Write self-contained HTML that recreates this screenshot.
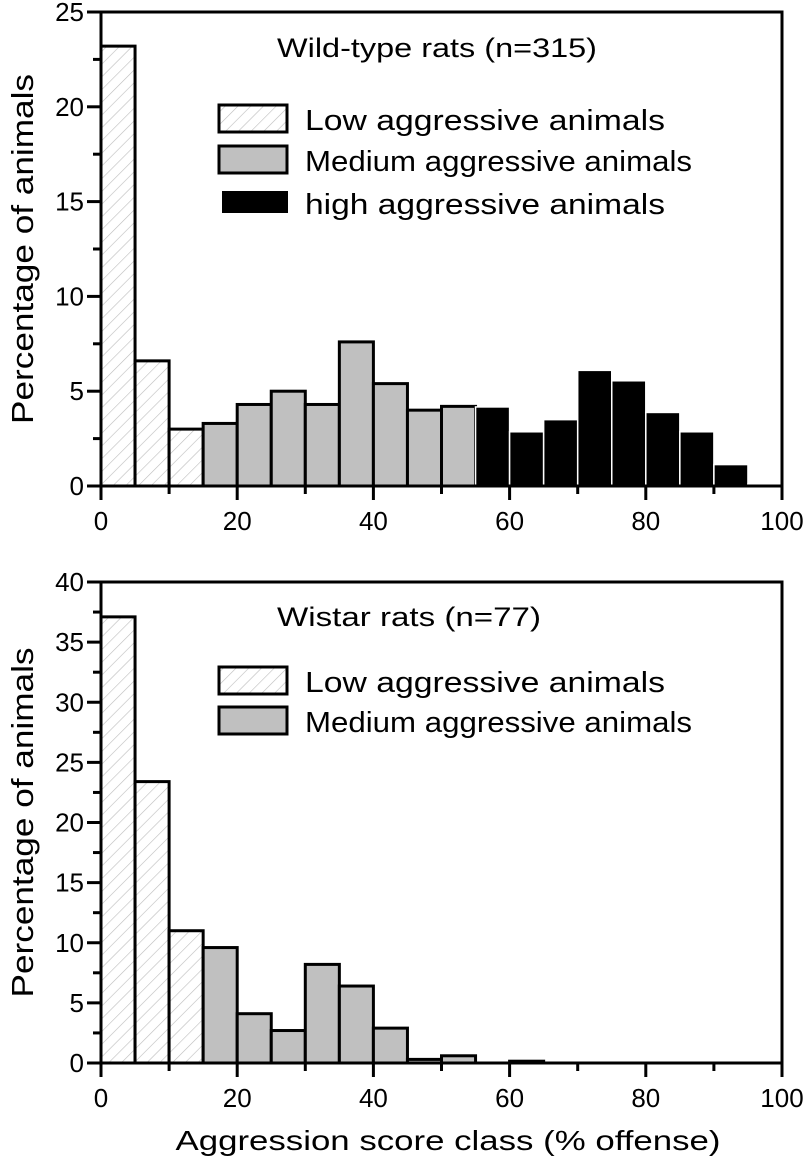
<!DOCTYPE html>
<html><head><meta charset="utf-8"><style>
html,body{margin:0;padding:0;background:#fff;}
svg{display:block;font-family:"Liberation Sans",Arial,sans-serif;}
</style></head><body>
<svg id="chart" width="806" height="1168" viewBox="0 0 806 1168" xmlns="http://www.w3.org/2000/svg">
<defs>
<pattern id="hatch" patternUnits="userSpaceOnUse" width="9" height="9" patternTransform="rotate(45)">
<rect width="9" height="9" fill="#fff"/>
<line x1="0" y1="0" x2="0" y2="9" stroke="#bdbdbd" stroke-width="1.2"/>
</pattern>
</defs>
<g id="g"></g>
</svg>
<script>
// bins (class lower edges, %)
const binStarts = [0,5,10,15,20,25,30,35,40,45,50,55,60,65,70,75,80,85,90,95];
// top panel: wild-type rats
const wildValues = [23.2,6.6,3.0,3.3,4.3,5.0,4.3,7.6,5.4,4.0,4.2,4.17,2.86,3.5,6.1,5.55,3.88,2.86,1.13,0.1];
const wildClasses = ['low','low','low','med','med','med','med','med','med','med','med','high','high','high','high','high','high','high','high','high'];
// bottom panel: Wistar rats
const wistarValues = [37.1,23.4,11.0,9.6,4.1,2.7,8.2,6.4,2.9,0.3,0.6,0,0.15,0,0,0,0,0,0,0];
const wistarClasses = ['low','low','low','med','med','med','med','med','med','med','med','med','med','med','med','med','med','med','med','med'];
const xTicks = [0,20,40,60,80,100];
const wildYTicks = [0,5,10,15,20,25];
const wistarYTicks = [0,5,10,15,20,25,30,35,40];

const NS='http://www.w3.org/2000/svg';
const root=document.getElementById('g');
function mk(tag,attrs,parent){const e=document.createElementNS(NS,tag);for(const k in attrs)e.setAttribute(k,attrs[k]);(parent||root).appendChild(e);return e;}

function panel(p){
  const grp=mk('g',{});
  
  
  const x=v=>p.x0+(v/100)*(p.x1-p.x0);
  const y=v=>p.y0-(v/p.ymax)*(p.y0-p.y1);
  const w=5;
  p.values.forEach((v,i)=>{
    if(v<=0)return;
    const c=p.classes[i];
    const xa=x(binStarts[i]), xb=x(binStarts[i]+w), ya=y(v);
    let r;
    if(c==='high'){
      r=mk('rect',{x:xa,y:ya,width:xb-xa,height:Math.max(p.y0-ya,1.5),fill:'#000',stroke:'#fff','stroke-width':1.5},grp);
    }else{
      r=mk('rect',{x:xa,y:ya,width:xb-xa,height:p.y0-ya,fill:c==='low'?'url(#hatch)':'#c0c0c0',stroke:'#000','stroke-width':3},grp);
    }
    
    
  });
  const fr=mk('rect',{x:p.x0,y:p.y1,width:p.x1-p.x0,height:p.y0-p.y1,fill:'none',stroke:'#000','stroke-width':3},grp);
  
  
  for(let v=0;v<=100;v+=10){
    const major=v%20===0;
    mk('line',{x1:x(v),x2:x(v),y1:p.y0,y2:p.y0+(major?14:8),stroke:'#000','stroke-width':3},grp);
  }
  xTicks.forEach(v=>{
    const t=mk('text',{x:x(v),y:p.y0+44,'text-anchor':'middle','font-size':26},grp);
    t.textContent=v;
    
    
  });
  for(let v=0;v<=p.ymax+1e-9;v+=p.minor){
    const major=Math.abs(v/p.major-Math.round(v/p.major))<1e-6;
    mk('line',{x1:p.x0,x2:p.x0-(major?14:8),y1:y(v),y2:y(v),stroke:'#000','stroke-width':3},grp);
  }
  p.yTicks.forEach(v=>{
    const t=mk('text',{x:p.x0-17,y:y(v)+9,'text-anchor':'end','font-size':26},grp);
    t.textContent=v;
    
    
  });
  const tt=mk('text',{x:277,y:p.titleY,'font-size':27,textLength:p.titleLen,lengthAdjust:'spacingAndGlyphs'},grp);
  tt.textContent=p.title;
  
  
  p.legend.forEach(L=>{
    const lg=mk('g',{},grp);
    
    
    if(L.c==='high') mk('rect',{x:222,y:L.y+2,width:66,height:22,fill:'#000'},lg);
    else mk('rect',{x:219,y:L.y,width:68,height:27,fill:L.c==='low'?'url(#hatch)':'#c0c0c0',stroke:'#000','stroke-width':3},lg);
    const t=mk('text',{x:305,y:L.y+25,'font-size':29,textLength:L.len,lengthAdjust:'spacingAndGlyphs'},lg);
    t.textContent=L.t;
  });
  const cy=(p.y0+p.y1)/2;
  const yt=mk('text',{x:0,y:0,'text-anchor':'middle','font-size':31,textLength:350,lengthAdjust:'spacingAndGlyphs',transform:`translate(33,${cy}) rotate(-90)`},grp);
  yt.textContent='Percentage of animals';
  
  
}

panel({name:'wild-type-panel',x0:101,x1:782,y0:486,y1:12,ymax:25,major:5,minor:2.5,yTicks:wildYTicks,
  values:wildValues,classes:wildClasses,title:'Wild-type rats (n=315)',titleY:57,titleLen:320,
  legend:[{c:'low',y:105,t:'Low aggressive animals',len:360},{c:'med',y:146,t:'Medium aggressive animals',len:387},{c:'high',y:189,t:'high aggressive animals',len:360}]});
panel({name:'wistar-panel',x0:101,x1:782,y0:1063,y1:582,ymax:40,major:5,minor:2.5,yTicks:wistarYTicks,
  values:wistarValues,classes:wistarClasses,title:'Wistar rats (n=77)',titleY:626,titleLen:264,
  legend:[{c:'low',y:667,t:'Low aggressive animals',len:360},{c:'med',y:707,t:'Medium aggressive animals',len:387}]});

const xt=mk('text',{x:448,y:1150,'text-anchor':'middle','font-size':28,textLength:545,lengthAdjust:'spacingAndGlyphs'});
xt.textContent='Aggression score class (% offense)';


</script>
</body></html>
